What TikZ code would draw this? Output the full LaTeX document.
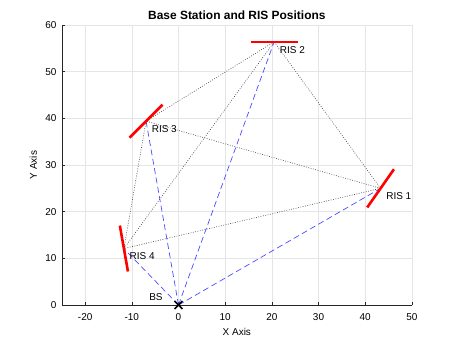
\documentclass[tikz,border=0pt]{standalone}
\usepackage{fontspec}
\setmainfont{Liberation Sans}
\usetikzlibrary{calc, positioning}
\definecolor{axisgray}{gray}{0.15}
\definecolor{gridgray}{gray}{0.9}
\definecolor{risred}{rgb}{1,0,0}
\definecolor{linkblue}{rgb}{0.3,0.3,1}

\begin{document}
\begin{tikzpicture}[x=4.667bp, y=4.667bp, font=\fontsize{10}{12}\selectfont,
    gridline/.style={gridgray, line width=0.5bp},
    axisline/.style={axisgray, line width=0.5bp},
    risline/.style={risred, line width=2.6bp},
    bslink/.style={linkblue, dashed, dash pattern=on 6bp off 3.5bp, line width=0.7bp},
    rislink/.style={black!75, dash pattern=on 0.8bp off 1.6bp, line width=0.6bp},
    rislabel/.style={anchor=west, inner sep=0pt}]
    \useasboundingbox (-38.25,-8.14) rectangle (59.89,65.36);

    % 1. Grid
    \foreach \gx in {-20,-10,...,50} \draw[gridline] (\gx,0) -- (\gx,60);
    \foreach \gy in {10,20,...,60} \draw[gridline] (-25,\gy) -- (50,\gy);

    % 2. Axes, ticks and tick labels
    \draw[axisline] (-25,60) -- (-25,0) -- (50,0);
    \foreach \gx in {-20,-10,...,50} {
        \draw[axisline] (\gx,0) -- (\gx,0.6);
        \node at (\gx,-2.68) {\gx};
    }
    \foreach \gy in {0,10,...,60} {
        \draw[axisline] (-25,\gy) -- (-24.4,\gy);
        \node[anchor=east, inner sep=0pt] at (-26.1,\gy) {\gy};
    }
    \node (xlabel) at (12.5,-5.8) {X Axis};
    \node[rotate=90] (ylabel) at (-31.1,30) {Y Axis};
    \node[font=\bfseries\fontsize{12}{14}\selectfont] (title) at (12.5,62.0) {Base Station and RIS Positions};

    % 3. Base station and RIS positions
    \coordinate (bs) at (0,0);
    \coordinate (ris1) at (43.3,25);
    \coordinate (ris2) at (20.5,56.4);
    \coordinate (ris3) at (-6.95,39.4);
    \coordinate (ris4) at (-11.7,12.1);

    % 4. Links between the RIS
    \foreach \a/\b in {1/2,1/3,1/4,2/3,2/4,3/4}
        \draw[rislink] (ris\a) -- (ris\b);

    % 5. Links from the base station
    \foreach \i in {1,...,4}
        \draw[bslink] (bs) -- (ris\i);

    % 6. RIS panels
    \foreach \i/\ang in {1/55,2/0,3/45,4/100}
        \draw[risline] ($(ris\i)+(\ang:5)$) -- ($(ris\i)+(\ang+180:5)$);

    % 7. Labels
    \foreach \i in {1,...,4}
        \node[rislabel] (ris\i label) at ($(ris\i)+(1.2,-1.7)$) {RIS \i};
    \node[rislabel] (bslabel) at (-6.3,1.8) {BS};

    % 8. Base station marker
    \draw[black, line width=1.6bp] ($(bs)+(-0.85,-0.85)$) -- ($(bs)+(0.85,0.85)$);
    \draw[black, line width=1.6bp] ($(bs)+(-0.85,0.85)$) -- ($(bs)+(0.85,-0.85)$);

\end{tikzpicture}
\end{document}
